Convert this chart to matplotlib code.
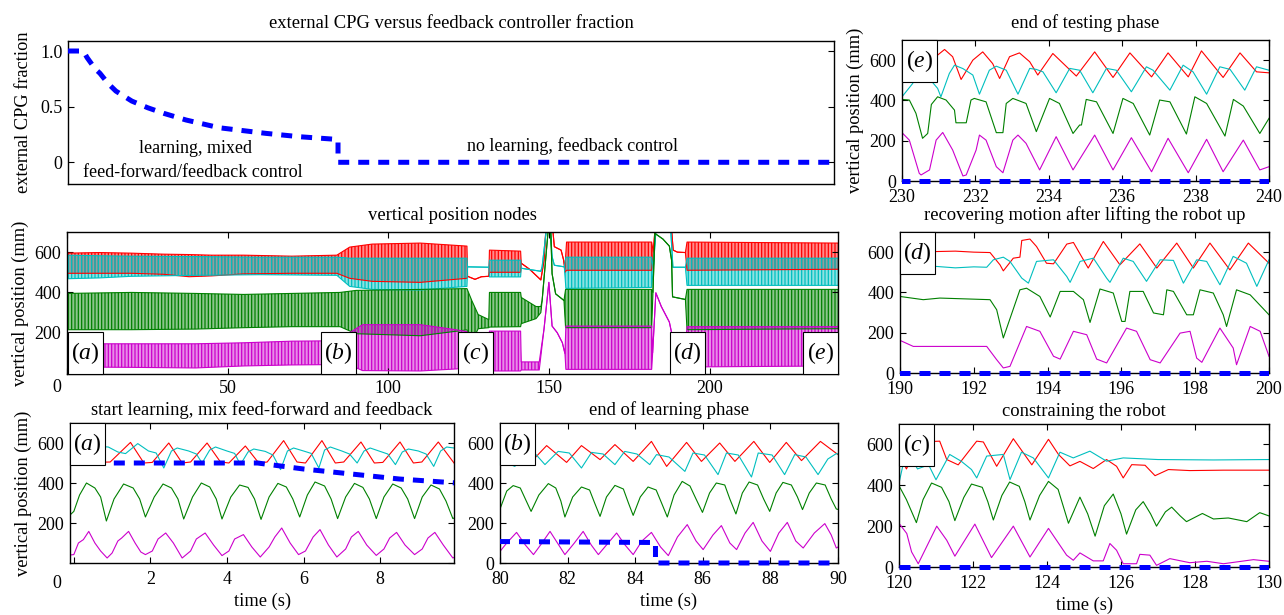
import numpy as np
import matplotlib
matplotlib.use('Agg')
import matplotlib.pyplot as plt
from matplotlib.colors import to_rgba
from matplotlib.patches import Rectangle
from matplotlib.transforms import Bbox, TransformedBbox

plt.rcParams['font.family'] = ['Liberation Serif', 'DejaVu Serif']
plt.rcParams['mathtext.fontset'] = 'custom'
plt.rcParams['mathtext.rm'] = 'Liberation Serif'
plt.rcParams['mathtext.it'] = 'Liberation Serif:italic'
plt.rcParams['font.size'] = 13
plt.rcParams['axes.titlesize'] = 13.4
plt.rcParams['axes.labelsize'] = 13.2
plt.rcParams['hatch.linewidth'] = 0.9

C_RED, C_CYAN, C_GREEN, C_MAG, C_BLUE = '#ff0000', '#00bfbf', '#008000', '#cc00cc', '#0000ff'

# external CPG fraction (top panel), also drawn x500 in the zoom panels
cpg_t = [0, 4.8, 6, 7, 8.5, 10, 12.5, 15, 20, 25, 30, 37, 47.5, 62, 72.5, 84.6, 84.6, 240]
cpg_f = [1, 1, 0.94, 0.90, 0.84, 0.80, 0.71, 0.64, 0.55, 0.49, 0.44, 0.38, 0.31, 0.26, 0.23, 0.205, 0, 0]

# overview 0-240 s: (time, lower envelope, upper envelope) of each node
red_ov = [(0, 495, 595), (10, 495, 598), (20, 495, 595), (30, 490, 590), (38, 478, 588), (45, 482, 585),
          (55, 492, 585), (70, 495, 580), (84, 495, 585), (88, 470, 625), (95, 455, 640), (110, 450, 645),
          (124.5, 470, 630), (124.7, 480, 480), (127, 465, 465), (129, 478, 478), (131.3, 480, 480),
          (131.5, 500, 610), (141.2, 500, 605), (141.4, 545, 545), (144, 515, 515), (147.5, 462, 462),
          (148.5, 560, 560), (149.2, 750, 750), (151.0, 750, 750), (151.7, 627, 627), (153.8, 610, 610),
          (154.6, 560, 560), (155.0, 500, 520), (155.5, 510, 650), (182, 510, 650), (182.5, 600, 600),
          (183.2, 750, 750), (188.0, 750, 750), (188.7, 610, 610), (190, 600, 600), (192.5, 598, 598),
          (193, 510, 650), (240, 515, 645)]
cyan_ov = [(0, 468, 585), (10, 472, 582), (20, 480, 580), (40, 485, 578), (60, 488, 575), (84, 485, 575),
           (88, 430, 570), (95, 415, 570), (110, 412, 570), (124.5, 430, 570), (124.7, 527, 527),
           (131.3, 525, 525), (131.5, 477, 560), (141.2, 477, 560), (141.4, 520, 520), (147.5, 505, 505),
           (147.9, 527, 527), (149.5, 750, 750), (150.3, 750, 750), (151.0, 577, 577), (151.7, 535, 535),
           (154.8, 527, 527), (155.3, 420, 575), (182, 425, 575), (182.5, 520, 520), (183.5, 750, 750),
           (187.8, 750, 750), (188.6, 525, 525), (192.5, 525, 525), (193, 435, 570), (240, 435, 570)]
green_ov = [(0, 215, 395), (20, 215, 400), (40, 218, 395), (55, 225, 390), (70, 230, 395), (85, 230, 400),
            (90, 195, 410), (110, 185, 415), (124.5, 214, 419), (126, 155, 360), (128, 220, 290),
            (131.3, 225, 265), (131.5, 228, 400), (141.2, 230, 400), (141.4, 245, 375), (146, 270, 330),
            (147.5, 300, 330), (147.9, 360, 360), (150.0, 750, 750), (150.5, 750, 750), (151.0, 493, 493),
            (152.1, 393, 393), (154.7, 360, 360), (155.2, 225, 415), (182, 225, 415), (182.4, 400, 400),
            (183.0, 693, 693), (185.5, 665, 665), (187.5, 630, 630), (188.2, 560, 560), (188.5, 378, 378),
            (192.5, 365, 365), (193, 215, 415), (240, 220, 415)]
mag_ov = [(0, 30, 145), (20, 28, 145), (40, 25, 145), (55, 35, 150), (70, 40, 158), (84, 42, 160),
          (88, 40, 200), (92, 12, 240), (110, 10, 240), (121, 20, 215), (124.5, 25, 205), (126, 10, 80),
          (131.3, 10, 30), (131.5, 10, 208), (141.2, 10, 208), (141.4, 15, 55), (147.0, 15, 55),
          (148.5, 220, 220), (150.0, 450, 450), (151.0, 233, 233), (152.6, 200, 200), (154.2, 150, 150),
          (155.0, 97, 97), (155.3, 18, 233), (182, 18, 233), (182.3, 100, 100), (183.3, 398, 398),
          (185, 330, 330), (187.5, 253, 253), (188.2, 200, 200), (188.6, 132, 132), (192.5, 132, 132),
          (193, 30, 230), (240, 35, 230)]

# (a) 0-10 s
red_a = [(-0.1, 500), (0.95, 505), (1.48, 603), (1.83, 500), (2.05, 503), (2.48, 600), (2.83, 500), (3.05, 505),
         (3.48, 600), (3.83, 505), (4.05, 500), (4.48, 585), (4.83, 500), (5.05, 505), (5.48, 612), (5.83, 505),
         (6.05, 500), (6.48, 612), (6.83, 500), (7.05, 505), (7.5, 605), (7.85, 500), (8.07, 503), (8.52, 605),
         (8.87, 500), (9.09, 505), (9.52, 605), (9.93, 500)]
cyan_a = [(-0.1, 590), (0.5, 585), (0.9, 580), (1.15, 555), (1.35, 547), (1.67, 597), (1.95, 560), (2.15, 550),
          (2.35, 475), (2.55, 560), (2.7, 575), (3.0, 560), (3.2, 545), (3.35, 500), (3.55, 565), (3.7, 580),
          (4.0, 560), (4.2, 548), (4.35, 492), (4.55, 555), (4.7, 570), (5.0, 558), (5.2, 540), (5.4, 467),
          (5.58, 560), (5.74, 575), (6.0, 560), (6.2, 548), (6.4, 475), (6.55, 565), (6.7, 580), (7.0, 560),
          (7.2, 545), (7.4, 500), (7.58, 560), (7.74, 575), (8.0, 558), (8.2, 545), (8.4, 492), (8.58, 555),
          (8.74, 570), (9.0, 560), (9.2, 545), (9.4, 483), (9.58, 560), (9.74, 580), (9.93, 575)]
green_a = [(-0.1, 240), (0.0, 258), (0.15, 340), (0.33, 400), (0.55, 375), (0.7, 330), (0.85, 210), (1.05, 320),
           (1.3, 395), (1.55, 375), (1.72, 320), (1.87, 230), (2.1, 330), (2.33, 395), (2.55, 375), (2.72, 320),
           (2.87, 220), (3.1, 330), (3.33, 400), (3.55, 380), (3.72, 320), (3.87, 220), (4.1, 330), (4.33, 390),
           (4.55, 378), (4.72, 320), (4.89, 218), (5.1, 330), (5.33, 398), (5.55, 380), (5.72, 320), (5.9, 230),
           (6.1, 340), (6.3, 405), (6.55, 385), (6.72, 320), (6.89, 222), (7.1, 330), (7.33, 398), (7.55, 378),
           (7.72, 320), (7.9, 222), (8.1, 330), (8.33, 395), (8.55, 375), (8.72, 320), (8.9, 222), (9.1, 330),
           (9.33, 390), (9.55, 370), (9.72, 310), (9.9, 222), (9.93, 225)]
mag_a = [(-0.1, 40), (0.0, 42), (0.12, 100), (0.25, 117), (0.39, 158), (0.55, 100), (0.7, 60), (0.87, 25),
         (1.0, 50), (1.15, 110), (1.25, 125), (1.43, 158), (1.6, 100), (1.75, 55), (1.87, 42), (2.05, 60),
         (2.2, 120), (2.4, 150), (2.6, 100), (2.83, 25), (3.05, 60), (3.2, 120), (3.43, 150), (3.65, 90),
         (3.87, 37), (4.05, 60), (4.2, 120), (4.43, 142), (4.65, 80), (4.87, 30), (5.1, 80), (5.25, 130),
         (5.43, 175), (5.65, 100), (5.87, 42), (6.05, 60), (6.25, 130), (6.43, 167), (6.65, 90), (6.87, 30),
         (7.1, 70), (7.25, 130), (7.43, 158), (7.65, 90), (7.9, 38), (8.1, 70), (8.25, 125), (8.43, 153),
         (8.65, 90), (8.9, 42), (9.1, 70), (9.25, 125), (9.43, 153), (9.65, 90), (9.9, 25), (9.93, 28)]

# (b) 80-90 s
red_b = [(80.0, 492), (80.45, 560), (80.89, 500), (81.38, 587), (81.97, 503), (82.41, 587), (82.96, 517),
         (83.4, 592), (83.94, 508), (84.48, 608), (84.93, 483), (85.52, 603), (85.96, 508), (86.5, 600),
         (86.95, 508), (87.51, 608), (87.98, 503), (88.47, 603), (88.92, 512), (89.48, 608), (90.0, 542)]
cyan_b = [(80.0, 530), (80.2, 500), (80.44, 483), (80.74, 558), (81.05, 545), (81.33, 492), (81.72, 558),
          (82.05, 550), (82.41, 475), (82.71, 553), (83.05, 545), (83.4, 492), (83.69, 558), (84.05, 545),
          (84.43, 492), (84.63, 542), (85.0, 530), (85.47, 458), (85.71, 550), (86.05, 540), (86.45, 442),
          (86.7, 550), (87.05, 540), (87.44, 430), (87.64, 550), (88.05, 540), (88.42, 442), (88.72, 542),
          (89.05, 530), (89.41, 442), (89.7, 520), (89.95, 547), (90.0, 545)]
green_b = [(80.0, 270), (80.2, 360), (80.39, 387), (80.6, 375), (80.75, 320), (80.92, 258), (81.15, 340),
           (81.43, 397), (81.65, 375), (81.8, 310), (81.92, 230), (82.15, 330), (82.41, 380), (82.65, 365),
           (82.8, 300), (82.96, 233), (83.15, 330), (83.4, 388), (83.65, 370), (83.8, 300), (83.94, 238),
           (84.15, 330), (84.38, 380), (84.62, 365), (84.78, 300), (84.95, 230), (85.15, 340), (85.39, 408),
           (85.62, 385), (85.8, 320), (85.99, 253), (86.2, 350), (86.4, 400), (86.65, 390), (86.8, 320),
           (86.98, 245), (87.17, 350), (87.37, 405), (87.62, 390), (87.8, 320), (87.98, 258), (88.17, 350),
           (88.37, 403), (88.62, 390), (88.8, 330), (88.95, 267), (89.15, 350), (89.36, 400), (89.62, 390),
           (89.8, 320), (89.95, 270), (90.0, 268)]
mag_b = [(80.0, 58), (80.2, 100), (80.49, 153), (80.75, 90), (80.99, 42), (81.2, 90), (81.48, 158), (81.7, 100),
         (81.92, 42), (82.2, 100), (82.46, 158), (82.7, 90), (82.91, 42), (83.2, 100), (83.45, 150), (83.7, 90),
         (83.94, 42), (84.2, 110), (84.48, 153), (84.75, 80), (84.98, 37), (85.25, 130), (85.54, 192),
         (85.8, 110), (86.01, 67), (86.3, 140), (86.55, 187), (86.8, 100), (87.0, 67), (87.25, 150),
         (87.49, 203), (87.75, 110), (88.0, 58), (88.25, 150), (88.5, 203), (88.75, 110), (88.97, 75),
         (89.3, 150), (89.61, 197), (89.8, 140), (89.95, 75), (90.0, 80)]

# (c) 120-130 s
red_c = [(120.0, 560), (120.2, 480), (120.57, 612), (121.1, 616), (121.29, 526), (121.6, 500), (122.1, 616),
         (122.28, 612), (122.64, 493), (123.09, 628), (123.59, 500), (124.04, 625), (124.31, 551), (124.62, 495),
         (124.89, 517), (125.25, 482), (125.61, 526), (125.88, 493), (126.06, 436), (126.29, 501), (126.65, 498),
         (126.92, 447), (127.28, 477), (127.86, 472), (128.77, 474), (130.0, 474)]
cyan_c = [(120.0, 411), (120.2, 575), (120.5, 480), (120.8, 500), (121.0, 427), (121.37, 551), (121.68, 518),
          (121.96, 477), (122.1, 436), (122.37, 543), (122.82, 551), (123.0, 428), (123.31, 562), (123.63, 534),
          (124.04, 436), (124.35, 562), (124.71, 534), (125.16, 567), (125.61, 518), (126.06, 534), (127.0, 526),
          (128.5, 524), (130.0, 526)]
green_c = [(120.0, 398), (120.2, 330), (120.47, 217), (120.65, 330), (120.88, 411), (121.15, 390), (121.35, 320),
           (121.51, 227), (121.75, 340), (121.96, 406), (122.25, 390), (122.4, 320), (122.55, 230), (122.78, 350),
           (122.99, 416), (123.25, 395), (123.4, 320), (123.54, 230), (123.8, 350), (124.04, 419), (124.3, 380),
           (124.58, 214), (124.89, 342), (125.1, 260), (125.3, 151), (125.55, 300), (125.79, 357), (126.0, 260),
           (126.15, 161), (126.4, 280), (126.6, 320), (126.8, 260), (126.96, 200), (127.2, 270), (127.37, 293),
           (127.6, 250), (127.77, 222), (128.2, 262), (128.5, 235), (128.9, 240), (129.4, 222), (129.75, 266),
           (130.0, 250)]
mag_c = [(120.0, 214), (120.21, 164), (120.34, 74), (120.52, 16), (121.02, 200), (121.29, 131), (121.51, 53),
         (122.05, 210), (122.5, 46), (123.09, 200), (123.54, 49), (124.04, 189), (124.53, 58), (124.71, 33),
         (124.89, 69), (125.25, 30), (125.52, 30), (125.7, 115), (125.88, 82), (126.06, 16), (126.42, 16),
         (126.51, 62), (126.78, 58), (126.96, 8), (127.32, 41), (127.86, 21), (128.32, 28), (128.77, 16),
         (129.58, 36), (130.0, 28)]

# (d) 190-200 s
red_d = [(190.0, 600), (190.99, 603), (191.5, 605), (192.0, 600), (192.44, 598), (192.71, 537), (192.8, 507),
         (193.07, 570), (193.25, 575), (193.3, 658), (193.52, 665), (193.7, 628), (193.97, 545), (194.16, 542),
         (194.52, 640), (194.7, 648), (195.1, 521), (195.51, 653), (195.96, 537), (196.5, 641), (196.96, 521),
         (197.5, 645), (197.95, 521), (198.4, 645), (198.94, 512), (199.44, 645), (200.0, 545)]
cyan_d = [(190.0, 525), (190.99, 529), (191.5, 522), (192.0, 527), (192.35, 525), (192.53, 562), (192.8, 575),
          (192.98, 554), (193.3, 471), (193.48, 446), (193.7, 554), (194.16, 562), (194.52, 479), (194.61, 450),
          (194.88, 554), (195.24, 570), (195.6, 471), (195.69, 450), (196.05, 570), (196.32, 554), (196.68, 455),
          (197.05, 562), (197.41, 559), (197.68, 446), (198.04, 562), (198.31, 554), (198.67, 438), (199.03, 579),
          (199.39, 545), (199.67, 430), (200.0, 562)]
green_d = [(190.0, 380), (190.63, 364), (191.08, 372), (192.44, 364), (192.62, 314), (192.8, 174), (193.25, 413),
           (193.43, 421), (193.79, 380), (194.07, 278), (194.34, 405), (194.7, 405), (194.97, 364), (195.15, 251),
           (195.42, 417), (195.78, 397), (196.01, 256), (196.1, 256), (196.23, 405), (196.59, 405), (196.87, 298),
           (197.14, 289), (197.23, 413), (197.41, 405), (197.77, 289), (197.95, 289), (198.13, 413), (198.49, 397),
           (198.76, 289), (198.85, 231), (199.12, 413), (199.49, 388), (200.0, 289)]
mag_d = [(190.0, 162), (190.36, 132), (191.08, 132), (192.35, 132), (192.62, 66), (192.8, 25), (192.98, 33),
         (193.43, 231), (193.79, 207), (194.16, 83), (194.34, 69), (194.7, 207), (195.06, 190), (195.33, 69),
         (195.6, 50), (196.14, 223), (196.41, 207), (196.78, 66), (197.05, 50), (197.59, 198), (197.86, 207),
         (198.04, 74), (198.18, 53), (198.67, 223), (199.03, 124), (199.12, 41), (199.49, 231), (199.76, 207),
         (200.0, 83)]

# (e) 230-240 s
red_e = [(230.0, 560), (230.97, 625), (231.16, 653), (231.38, 617), (231.61, 504), (231.93, 600), (232.2, 641),
         (232.47, 583), (232.66, 509), (232.93, 617), (233.2, 636), (233.48, 592), (233.7, 526), (234.11, 633),
         (234.75, 521), (235.25, 641), (235.75, 514), (236.21, 636), (236.8, 517), (237.25, 636), (237.8, 517),
         (238.16, 646), (238.75, 514), (239.21, 636), (239.66, 542), (240.0, 537)]
cyan_e = [(230.0, 418), (230.29, 484), (230.5, 560), (230.97, 460), (231.06, 418), (231.29, 534), (231.43, 575),
          (231.66, 558), (231.93, 526), (232.11, 431), (232.38, 550), (232.57, 570), (232.84, 550), (233.16, 431),
          (233.48, 559), (233.66, 554), (233.84, 542), (234.2, 438), (234.57, 559), (234.84, 550), (235.2, 438),
          (235.57, 559), (235.84, 550), (236.25, 443), (236.66, 567), (236.84, 550), (237.3, 451), (237.66, 575),
          (237.93, 542), (238.3, 431), (238.66, 567), (238.94, 554), (239.34, 451), (239.66, 567), (240.0, 550)]
green_e = [(230.0, 405), (230.2, 402), (230.38, 336), (230.56, 212), (230.7, 236), (230.8, 380), (230.97, 418),
           (231.2, 402), (231.43, 352), (231.47, 289), (231.75, 289), (231.88, 402), (231.97, 410), (232.29, 393),
           (232.57, 240), (232.75, 240), (232.84, 385), (233.02, 410), (233.38, 385), (233.66, 245), (234.02, 410),
           (234.29, 385), (234.66, 236), (234.84, 278), (234.89, 278), (235.02, 405), (235.3, 393), (235.75, 236),
           (236.02, 410), (236.3, 385), (236.75, 228), (237.02, 402), (237.3, 393), (237.75, 233), (237.98, 418),
           (238.3, 385), (238.8, 223), (239.03, 405), (239.3, 372), (239.75, 236), (240.0, 311)]
mag_e = [(230.0, 240), (230.2, 203), (230.47, 38), (230.52, 30), (230.75, 55), (230.93, 203), (231.11, 241),
         (231.38, 154), (231.66, 25), (231.75, 30), (232.02, 154), (232.11, 228), (232.29, 203), (232.57, 71),
         (232.75, 41), (233.02, 203), (233.16, 228), (233.38, 187), (233.75, 55), (234.2, 220), (234.66, 55),
         (235.25, 228), (235.75, 55), (236.25, 215), (236.8, 46), (237.25, 212), (237.8, 41), (238.3, 207),
         (238.75, 46), (239.3, 203), (239.75, 55), (240.0, 71)]

W, H = 1284, 615
fig = plt.figure(figsize=(W / 100, H / 100), dpi=100)


def add_ax(l, t, r, b, xpad=6):
    ax = fig.add_axes([l / W, 1 - b / H, (r - l) / W, (b - t) / H])
    ax.tick_params(direction='in', top=True, right=True, length=4, width=0.8)
    ax.tick_params(axis='x', pad=xpad)
    ax.tick_params(axis='y', pad=4)
    for s in ax.spines.values():
        s.set_linewidth(1.0)
    return ax


def label_box(ax, x0, y0, txt, w=35, h=42):
    bb = ax.get_position()
    fw, fh = w / (bb.width * W), h / (bb.height * H)
    if y0 is None:
        y0 = 1 - fh
    ax.add_patch(Rectangle((x0, y0), fw, fh, transform=ax.transAxes, fc='white', ec='black',
                           lw=0.8, zorder=5, clip_on=False))
    ax.text(x0 + fw / 2, y0 + fh / 2, txt, transform=ax.transAxes, ha='center', va='center',
            fontsize=17, zorder=6)


def blue_line(ax, scale):
    ln, = ax.plot(cpg_t, np.array(cpg_f) * scale, color=C_BLUE, lw=3.6, ls=(0, (2.2, 1.8)), zorder=3)
    ln.set_clip_box(TransformedBbox(Bbox([[0, -0.1], [1, 1.1]]), ax.transAxes))


# top panel
axT = add_ax(68, 41, 834, 184)
blue_line(axT, 1.0)
axT.set_xlim(0, 240)
axT.set_ylim(-0.195, 1.09)
axT.set_xticks([])
axT.set_yticks([0, 0.5, 1.0])
axT.set_yticklabels(['0', '0.5', '1.0'])
axT.set_ylabel('external CPG fraction', labelpad=6)
axT.set_title('external CPG versus feedback controller fraction', pad=9)
axT.text(40, 0.125, 'learning, mixed', ha='center', va='center')
axT.text(39, -0.09, 'feed-forward/feedback control', ha='center', va='center')
axT.text(158, 0.144, 'no learning, feedback control', ha='center', va='center')

# overview panel: dense oscillations drawn as striped envelope bands
axO = add_ax(67, 232, 838, 374, xpad=4)
for env, col in [(red_ov, C_RED), (cyan_ov, C_CYAN), (green_ov, C_GREEN), (mag_ov, C_MAG)]:
    t, lo, hi = map(np.array, zip(*env))
    axO.fill_between(t, lo, hi, facecolor=to_rgba(col, 0.45), edgecolor=col, hatch='|||||', lw=0)
    axO.plot(t, lo, color=col, lw=0.8)
    axO.plot(t, hi, color=col, lw=0.8)
axO.set_xlim(0, 240)
axO.set_ylim(-5, 700)
axO.set_xticks([0, 50, 100, 150, 200])
axO.set_xticklabels(['', '50', '100', '150', '200'])
axO.set_yticks([200, 400, 600])
axO.set_ylabel('vertical position (mm)')
axO.set_title('vertical position nodes', pad=9)
for x0, lab in [(0.0013, 'a'), (0.329, 'b'), (0.507, 'c'), (0.782, 'd'), (0.955, 'e')]:
    label_box(axO, x0, 0.0, r'$(%s)$' % lab)
fig.text(57 / W, 1 - 387 / H, '0', ha='center', va='center')

# zoom panels
panels = [
    ((70, 423, 454, 563), (-0.1, 9.93), [0, 2, 4, 6, 8], 'a', red_a, cyan_a, green_a, mag_a,
     'start learning, mix feed-forward and feedback'),
    ((500, 423, 838, 563), (80, 90), list(range(80, 91, 2)), 'b', red_b, cyan_b, green_b, mag_b,
     'end of learning phase'),
    ((899, 424, 1269, 567), (120, 130), list(range(120, 131, 2)), 'c', red_c, cyan_c, green_c, mag_c,
     'constraining the robot'),
    ((900, 232, 1269, 373), (190, 200), list(range(190, 201, 2)), 'd', red_d, cyan_d, green_d, mag_d,
     'recovering motion after lifting the robot up'),
    ((902, 40, 1269, 181), (230, 240), list(range(230, 241, 2)), 'e', red_e, cyan_e, green_e, mag_e,
     'end of testing phase'),
]
for box, xl, xt, lab, r, c, g, m, title in panels:
    ax = add_ax(*box)
    for pts, col in [(r, C_RED), (c, C_CYAN), (g, C_GREEN), (m, C_MAG)]:
        t, v = zip(*pts)
        ax.plot(t, v, color=col, lw=0.8)
    blue_line(ax, 500)
    ax.set_xlim(*xl)
    ax.set_ylim(0, 700)
    ax.set_xticks(xt)
    ax.set_yticks([0, 200, 400, 600])
    if lab == 'a':
        ax.set_xticklabels([''] + [str(v) for v in xt[1:]])
        ax.set_yticklabels(['', '200', '400', '600'])
        ax.set_ylabel('vertical position (mm)')
    if lab == 'e':
        ax.set_ylabel('vertical position (mm)')
    if lab in 'abc':
        ax.set_xlabel('time (s)', labelpad=3)
    ax.set_title(title, pad=6 if lab in 'abc' else 9)
    label_box(ax, 0.0, None, r'$(%s)$' % lab)
fig.text(57 / W, 1 - 583 / H, '0', ha='center', va='center')

fig.savefig('out.png', dpi=100)
